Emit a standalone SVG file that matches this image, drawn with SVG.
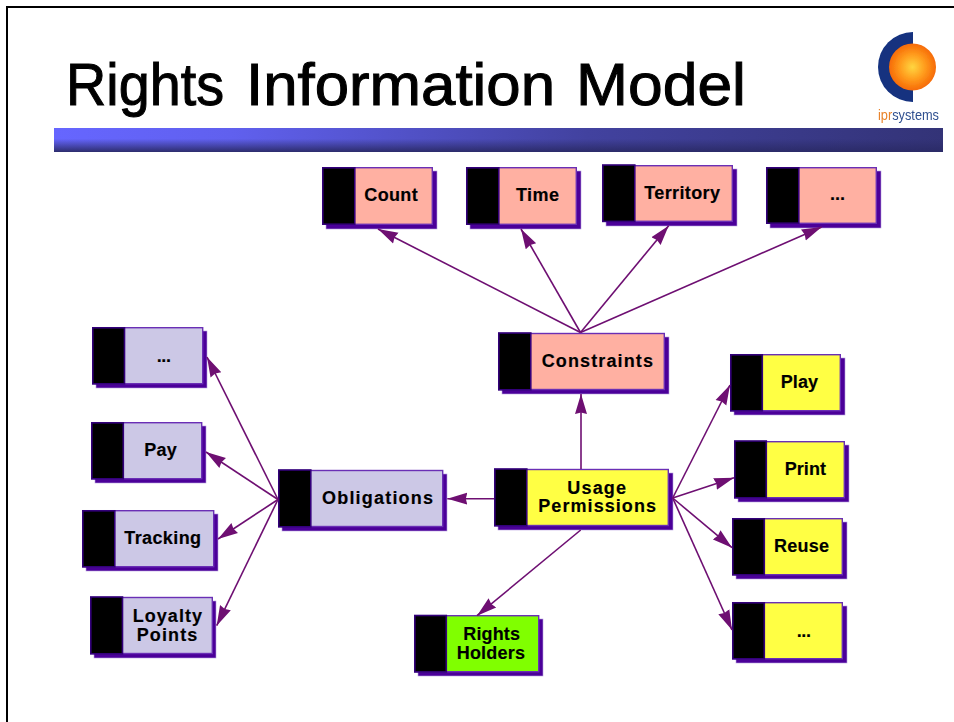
<svg xmlns="http://www.w3.org/2000/svg" width="954" height="722" viewBox="0 0 954 722">
<style>
text{font-family:"Liberation Sans",Arial,sans-serif}
.t{font-weight:700;font-size:18px;fill:#000;stroke:#000;stroke-width:.15;text-anchor:start}
.sh{fill:#4b0099;stroke:#b8a0e0;stroke-width:.6}
.b{stroke:#6a2fb5;stroke-width:1.4}
.k{fill:#000;stroke:#33007a;stroke-width:1.6}
.pink{fill:#ffb0a2}.lil{fill:#ccc8e6}.yel{fill:#ffff44}.grn{fill:#80ff00}
.c{stroke:#6e0f72;stroke-width:1.6;fill:none;marker-end:url(#ah)}
</style>
<defs>
<marker id="ah" markerUnits="userSpaceOnUse" markerWidth="22" markerHeight="14" refX="20" refY="7" orient="auto">
<path d="M0,1L20,7L0,13L1.5,7z" fill="#6e0f72"/>
</marker>
<linearGradient id="barH" x1="0" x2="1" y1="0" y2="0">
<stop offset="0" stop-color="#6666ff"/><stop offset=".2" stop-color="#6060ee"/><stop offset=".6" stop-color="#42429f"/><stop offset="1" stop-color="#333377"/>
</linearGradient>
<linearGradient id="barV" x1="0" x2="0" y1="0" y2="1">
<stop offset=".45" stop-color="#2a2a66" stop-opacity="0"/><stop offset="1" stop-color="#2a2a66" stop-opacity=".95"/>
</linearGradient>
<radialGradient id="sun"><stop offset="0" stop-color="#ffd640"/><stop offset=".55" stop-color="#ff9a1c"/><stop offset="1" stop-color="#f66a06"/></radialGradient>
<filter id="soft" x="-5%" y="-5%" width="110%" height="110%"><feGaussianBlur stdDeviation=".5"/></filter>
</defs>
<rect width="954" height="722" fill="#fff"/>
<path d="M7,722V7H954" fill="none" stroke="#000" stroke-width="2"/>
<text id="title" y="105" font-size="59" stroke="#000" stroke-width="1" lengthAdjust="spacingAndGlyphs"><tspan x="66" textLength="158" lengthAdjust="spacingAndGlyphs">Rights</tspan> <tspan x="246" textLength="309" lengthAdjust="spacingAndGlyphs">Information</tspan> <tspan x="576" textLength="170" lengthAdjust="spacingAndGlyphs">Model</tspan></text>
<g id="logo" filter="url(#soft)">
<path d="M913,32A35,35 0 0 0 913,102z" fill="#12307f"/>
<circle cx="912.5" cy="67" r="23.5" fill="url(#sun)"/>
<text x="878" y="120" font-size="14" textLength="61" lengthAdjust="spacingAndGlyphs"><tspan fill="#e8832a">ipr</tspan><tspan fill="#2f4f8f">systems</tspan></text>
</g>
<g id="bar"><rect x="54" y="128" width="889" height="24" fill="url(#barH)"/><rect x="54" y="128" width="889" height="24" fill="url(#barV)"/></g>

<g id="count"><rect class="sh" x="326" y="171" width="111" height="58"/><rect class="b pink" x="322.7" y="167.7" width="109.6" height="56.6"/><rect class="k" x="322.8" y="167.8" width="32" height="56.4"/><text class="t" x="364.3" y="200.7" textLength="53.4">Count</text></g>
<g id="time"><rect class="sh" x="470" y="171" width="111" height="58"/><rect class="b pink" x="466.7" y="167.7" width="109.6" height="56.6"/><rect class="k" x="466.8" y="167.8" width="32" height="56.4"/><text class="t" x="516" y="200.7" textLength="43">Time</text></g>
<g id="territory"><rect class="sh" x="606" y="169" width="131" height="57"/><rect class="b pink" x="602.7" y="165.7" width="129.6" height="55.6"/><rect class="k" x="602.8" y="165" width="32" height="56.4"/><text class="t" x="644.3" y="199" textLength="75.7">Territory</text></g>
<g id="more-constraints"><rect class="sh" x="770" y="171" width="111" height="57"/><rect class="b pink" x="766.7" y="167.7" width="109.6" height="55.6"/><rect class="k" x="766.8" y="167.8" width="32" height="55.4"/><text class="t" x="830" y="200" textLength="15">...</text></g>
<g id="constraints"><rect class="sh" x="502" y="337" width="167" height="57"/><rect class="b pink" x="498.7" y="333.5" width="165.6" height="56"/><rect class="k" x="498.8" y="333" width="32" height="56.8"/><text class="t" x="541.7" y="366.7" textLength="111.3">Constraints</text></g>
<g id="usage"><rect class="sh" x="498" y="473" width="175" height="57"/><rect class="b yel" x="494.7" y="469.5" width="173.6" height="56"/><rect class="k" x="494.8" y="469" width="32" height="56.8"/><text class="t" x="567.3" y="493.5" textLength="58.7">Usage</text><text class="t" x="538.3" y="511.9" textLength="117.7">Permissions</text></g>
<g id="obligations"><rect class="sh" x="282" y="474" width="165" height="57"/><rect class="b lil" x="278.7" y="470.5" width="164" height="56"/><rect class="k" x="278.8" y="470" width="32" height="56.8"/><text class="t" x="322" y="504" textLength="111">Obligations</text></g>
<g id="rights-holders"><rect class="sh" x="418" y="619" width="125" height="57"/><rect class="b grn" x="414.7" y="615.7" width="124" height="56"/><rect class="k" x="414.8" y="615.5" width="31.5" height="56.4"/><text class="t" x="463.3" y="640" textLength="56.7">Rights</text><text class="t" x="456.7" y="659" textLength="68.3">Holders</text></g>
<g id="play"><rect class="sh" x="734" y="358" width="111" height="57"/><rect class="b yel" x="730.7" y="354.7" width="109.6" height="56"/><rect class="k" x="730.8" y="354.8" width="31.5" height="56"/><text class="t" x="780.7" y="387.7" textLength="37.3">Play</text></g>
<g id="print"><rect class="sh" x="738" y="445" width="111" height="57"/><rect class="b yel" x="734.7" y="441.7" width="109.6" height="56"/><rect class="k" x="734.8" y="441" width="31.5" height="56.8"/><text class="t" x="784.7" y="475" textLength="41.3">Print</text></g>
<g id="reuse"><rect class="sh" x="736" y="522" width="111" height="57"/><rect class="b yel" x="732.7" y="518.7" width="109.6" height="56"/><rect class="k" x="732.8" y="518.8" width="31.5" height="56"/><text class="t" x="774" y="551.7" textLength="55">Reuse</text></g>
<g id="more-permissions"><rect class="sh" x="736" y="606" width="111" height="57"/><rect class="b yel" x="732.7" y="602.7" width="109.6" height="56"/><rect class="k" x="732.8" y="602.8" width="31.5" height="56"/><text class="t" x="796.7" y="636.7" textLength="14.3">...</text></g>
<g id="more-obligations"><rect class="sh" x="96" y="331" width="111" height="57"/><rect class="b lil" x="92.7" y="327.7" width="110" height="56"/><rect class="k" x="92.8" y="327.8" width="31.7" height="56"/><text class="t" x="156.7" y="362" textLength="14.3">...</text></g>
<g id="pay"><rect class="sh" x="95" y="426" width="111" height="57"/><rect class="b lil" x="91.7" y="422.7" width="110" height="56"/><rect class="k" x="91.8" y="422.8" width="31.5" height="56"/><text class="t" x="144.3" y="455.7" textLength="32.4">Pay</text></g>
<g id="tracking"><rect class="sh" x="86" y="514" width="132" height="57"/><rect class="b lil" x="82.7" y="510.7" width="131" height="56"/><rect class="k" x="82.8" y="510.8" width="32" height="56"/><text class="t" x="124.3" y="544" textLength="76.7">Tracking</text></g>
<g id="loyalty"><rect class="sh" x="94" y="601" width="122" height="57"/><rect class="b lil" x="90.7" y="597.5" width="121.6" height="56"/><rect class="k" x="90.8" y="597" width="31.7" height="56.8"/><text class="t" x="132.7" y="622.2" textLength="69.3">Loyalty</text><text class="t" x="136.7" y="640.6" textLength="60.6">Points</text></g>

<g id="connectors">
<line class="c" x1="580.5" y1="332.5" x2="378" y2="229"/>
<line class="c" x1="580.5" y1="332.5" x2="521" y2="229"/>
<line class="c" x1="580.5" y1="332.5" x2="668.7" y2="225.7"/>
<line class="c" x1="580.5" y1="332.5" x2="821.7" y2="227"/>
<line class="c" x1="581" y1="469" x2="581" y2="394"/>
<line class="c" x1="672.7" y1="498" x2="730" y2="385"/>
<line class="c" x1="672.7" y1="498" x2="734" y2="477.7"/>
<line class="c" x1="672.7" y1="498" x2="732" y2="547.7"/>
<line class="c" x1="672.7" y1="498" x2="732" y2="630"/>
<line class="c" x1="494" y1="498.7" x2="447.3" y2="498.7"/>
<line class="c" x1="580.7" y1="530" x2="477" y2="615.7"/>
<line class="c" x1="278" y1="499.5" x2="207" y2="357"/>
<line class="c" x1="278" y1="499.5" x2="206" y2="452"/>
<line class="c" x1="278" y1="499.5" x2="218" y2="539"/>
<line class="c" x1="278" y1="499.5" x2="216.7" y2="625.7"/>
</g>
</svg>
